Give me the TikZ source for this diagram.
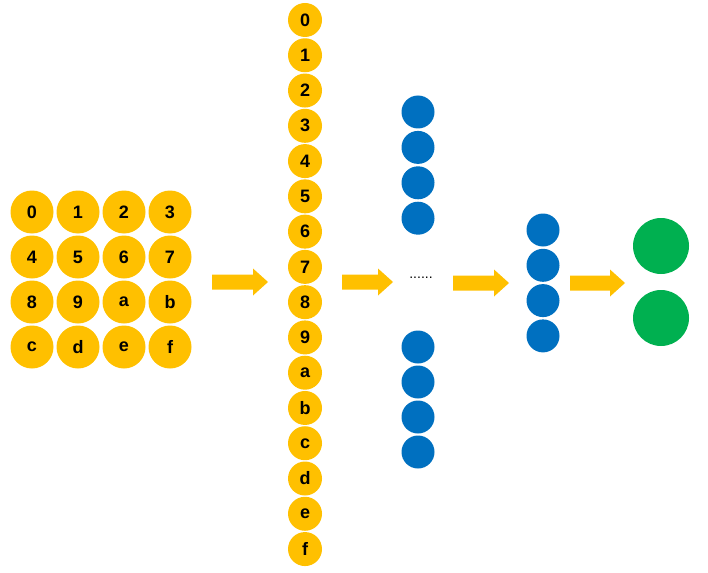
\documentclass[tikz,border=0pt]{standalone}
\usepackage{fontspec}
\setmainfont{Liberation Sans}
\definecolor{gold}{HTML}{FFC000}
\definecolor{nnblue}{HTML}{0070C0}
\definecolor{nngreen}{HTML}{00B050}
\newcommand\fatarrowat[3]{% x-start, x-end, y
  \fill[gold] (#1,#3-7.5) -- (#2-15,#3-7.5) -- (#2-15,#3-13.5) -- (#2,#3) -- (#2-15,#3+13.5) -- (#2-15,#3+7.5) -- (#1,#3+7.5) -- cycle;}
\begin{document}
\begin{tikzpicture}[x=1pt,y=-1pt,
  gridball/.style={circle,fill=gold,minimum size=43pt,inner sep=0pt,font=\fontsize{18}{18}\selectfont\bfseries},
  colball/.style={circle,fill=gold,minimum size=34pt,inner sep=0pt,font=\fontsize{18}{18}\selectfont\bfseries},
  blueball/.style={circle,fill=nnblue,minimum size=33pt,inner sep=0pt},
  greenball/.style={circle,fill=nngreen,minimum size=56pt,inner sep=0pt}]
\useasboundingbox (0,0) rectangle (708,572);
% input grid
\foreach \t [count=\i from 0] in {0,1,2,3,4,5,6,7,8,9,a,b,c,d,e,f}{
  \pgfmathtruncatemacro\cx{mod(\i,4)}
  \pgfmathtruncatemacro\ry{div(\i,4)}
  \node[gridball] (g\i) at (32+46*\cx,212+45*\ry) {\t};
}
% flattened column
\foreach \t [count=\i from 0] in {0,1,2,3,4,5,6,7,8,9,a,b,c,d,e,f}{
  \node[colball] (c\i) at (305,20+35.27*\i) {\t};
}
% hidden layer 1
\foreach \i in {0,1,2,3}{
  \node[blueball] (hu\i) at (418,112+35.4*\i) {};
  \node[blueball] (hl\i) at (418,347+35*\i) {};
}
\node[font=\fontsize{14}{14}\selectfont] (dots) at (421,278) {......};
% hidden layer 2
\foreach \i in {0,1,2,3}{
  \node[blueball] (h2\i) at (543,230+35.3*\i) {};
}
% output
\node[greenball] (o0) at (661,246) {};
\node[greenball] (o1) at (661,318) {};
% arrows
\fatarrowat{212}{268}{282}
\fatarrowat{342}{393}{282}
\fatarrowat{453}{509}{283}
\fatarrowat{570}{625}{283}
\end{tikzpicture}
\end{document}
